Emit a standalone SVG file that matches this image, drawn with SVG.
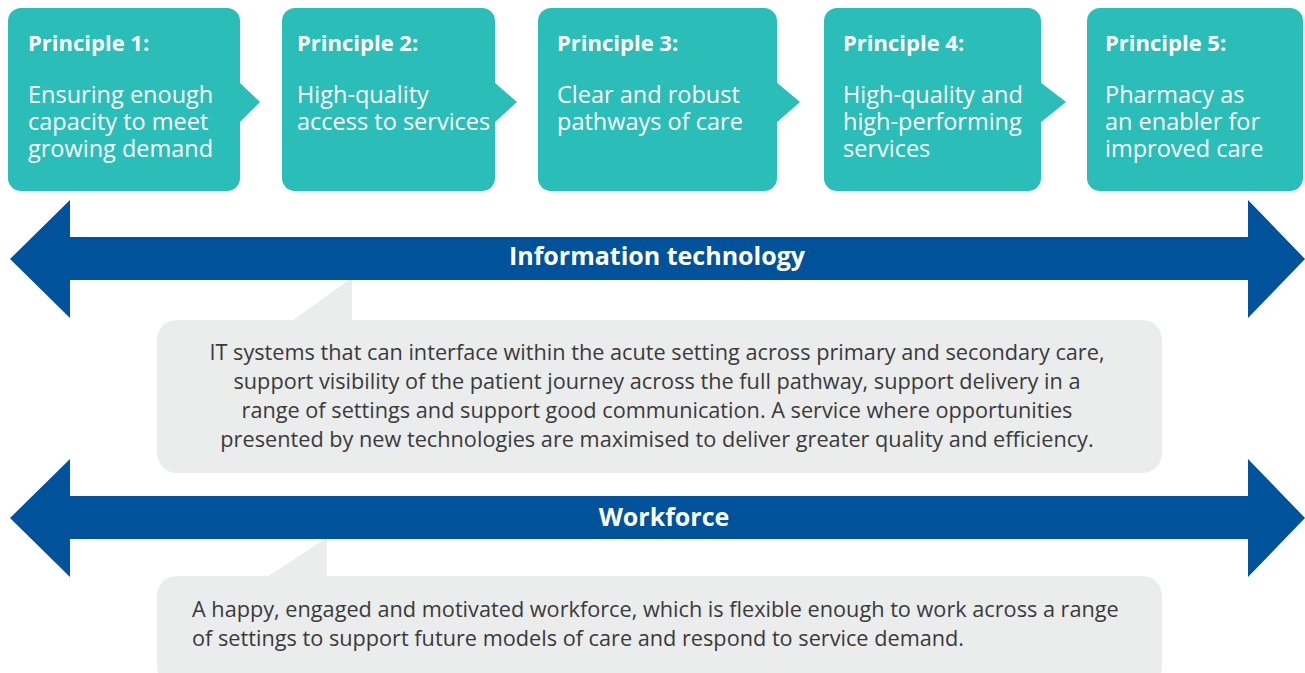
<svg xmlns="http://www.w3.org/2000/svg" width="1305" height="673" viewBox="0 0 1305 673">
<style>
.box{fill:#2bbdb7}
.arr{fill:#00529b}
.call{fill:#ebecec}
.ph{font-family:"Open Sans","Noto Sans",sans-serif;font-weight:bold;font-size:22px;fill:#fff}
.pb{font-family:"Open Sans","Noto Sans",sans-serif;font-size:23.5px;fill:#fff}
.al{font-family:"Open Sans","Noto Sans",sans-serif;font-weight:bold;font-size:25px;fill:#fff}
.ct{font-family:"Open Sans","Noto Sans",sans-serif;font-size:21.7px;fill:#3a3a3a}
</style>
<rect width="1305" height="673" fill="#fff"/>
<g id="p1">
<rect class="box" x="8" y="8" width="232" height="183" rx="13"/>
<polygon class="box" points="239,82 260,102 239,123"/>
<text class="ph" x="28" y="51">Principle 1:</text>
<text class="pb" x="28" y="103">Ensuring enough</text>
<text class="pb" x="28" y="130">capacity to meet</text>
<text class="pb" x="28" y="157">growing demand</text>
</g>
<g id="p2">
<rect class="box" x="282" y="8" width="213" height="183" rx="13"/>
<polygon class="box" points="494,82 517,102 494,123"/>
<text class="ph" x="297" y="51">Principle 2:</text>
<text class="pb" x="297" y="103">High-quality</text>
<text class="pb" x="297" y="130">access to services</text>
</g>
<g id="p3">
<rect class="box" x="538" y="8" width="239" height="183" rx="13"/>
<polygon class="box" points="776,82 800,102 776,123"/>
<text class="ph" x="557" y="51">Principle 3:</text>
<text class="pb" x="557" y="103">Clear and robust</text>
<text class="pb" x="557" y="130">pathways of care</text>
</g>
<g id="p4">
<rect class="box" x="824" y="8" width="217" height="183" rx="13"/>
<polygon class="box" points="1040,82 1066,102 1040,123"/>
<text class="ph" x="843" y="51">Principle 4:</text>
<text class="pb" x="843" y="103">High-quality and</text>
<text class="pb" x="843" y="130">high-performing</text>
<text class="pb" x="843" y="157">services</text>
</g>
<g id="p5">
<rect class="box" x="1087" y="8" width="216" height="183" rx="13"/>
<text class="ph" x="1105" y="51">Principle 5:</text>
<text class="pb" x="1105" y="103">Pharmacy as</text>
<text class="pb" x="1105" y="130">an enabler for</text>
<text class="pb" x="1105" y="157">improved care</text>
</g>
<g id="connectors">
<g id="it-arrow">
<polygon class="arr" points="10,259 70,200 70,237 1248,237 1248,200 1305,259 1248,318 1248,280 70,280 70,318"/>
<text class="al" x="657" y="265" text-anchor="middle">Information technology</text>
</g>
<g id="wf-arrow">
<polygon class="arr" points="10,518 70,459 70,496 1248,496 1248,459 1305,518 1248,577 1248,539 70,539 70,577"/>
<text class="al" x="664" y="526" text-anchor="middle">Workforce</text>
</g>
</g>
<g id="it-callout">
<polygon class="call" points="292,321 349,280 352,280 352,321"/>
<rect class="call" x="157" y="320" width="1005" height="153" rx="20"/>
<text class="ct" x="657" y="360" text-anchor="middle">IT systems that can interface within the acute setting across primary and secondary care,</text>
<text class="ct" x="657" y="389" text-anchor="middle">support visibility of the patient journey across the full pathway, support delivery in a</text>
<text class="ct" x="657" y="418" text-anchor="middle">range of settings and support good communication. A service where opportunities</text>
<text class="ct" x="657" y="447" text-anchor="middle">presented by new technologies are maximised to deliver greater quality and efficiency.</text>
</g>
<g id="wf-callout">
<polygon class="call" points="267,577 325,539 327,539 327,577"/>
<rect class="call" x="157" y="576" width="1005" height="110" rx="20"/>
<text class="ct" x="192" y="617">A happy, engaged and motivated workforce, which is flexible enough to work across a range</text>
<text class="ct" x="192" y="646">of settings to support future models of care and respond to service demand.</text>
</g>
</svg>
